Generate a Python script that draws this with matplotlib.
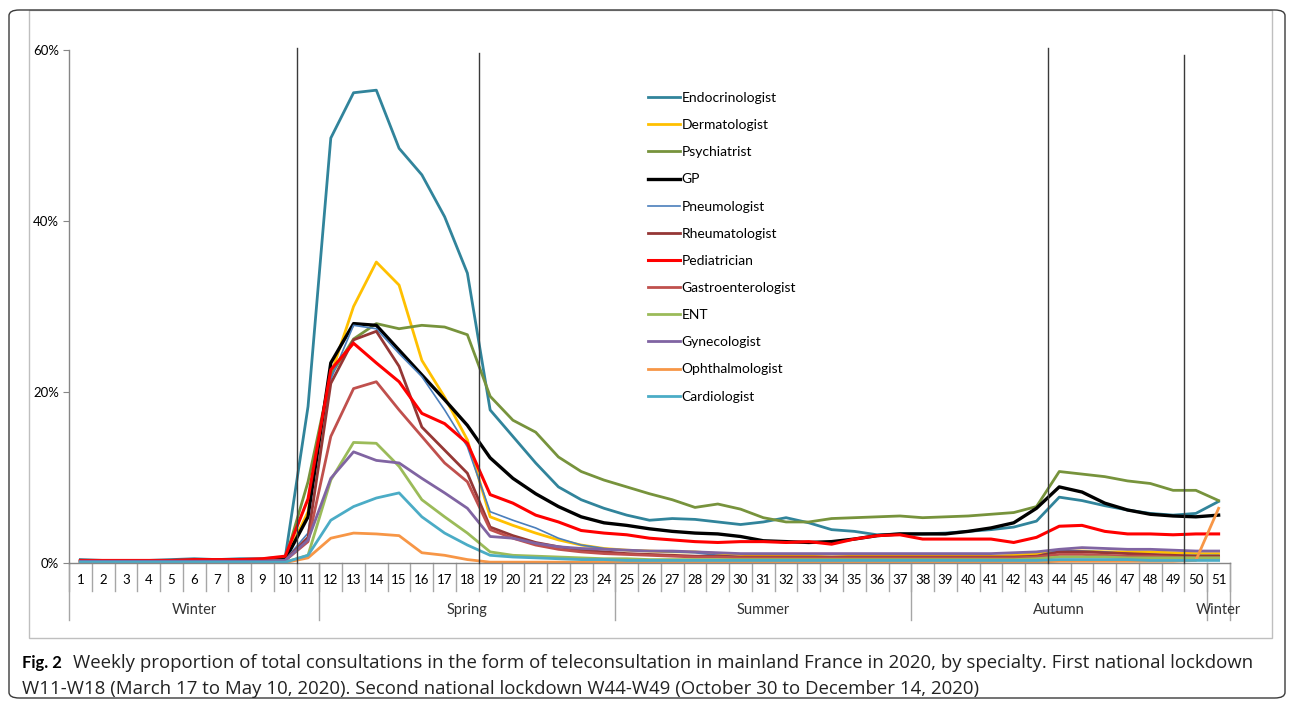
import numpy as np
import matplotlib.pyplot as plt
from matplotlib.patches import FancyBboxPatch, Rectangle

plt.rcParams['font.family'] = ['Lato', 'DejaVu Sans']

weeks = np.arange(1, 52)

endocrinologist = [0.4, 0.3, 0.3, 0.3, 0.4, 0.5, 0.4, 0.5, 0.5, 0.7,
                   18.3, 49.7, 55.0, 55.3, 48.5, 45.4, 40.5, 33.9, 17.9, 14.8,
                   11.7, 8.9, 7.4, 6.4, 5.6, 5.0, 5.2, 5.1, 4.8, 4.5,
                   4.8, 5.3, 4.7, 3.9, 3.7, 3.3, 3.4, 3.4, 3.5, 3.7,
                   3.9, 4.2, 4.9, 7.7, 7.3, 6.7, 6.2, 5.8, 5.6, 5.8, 7.2]
dermatologist = [0.2, 0.2, 0.2, 0.2, 0.2, 0.2, 0.2, 0.2, 0.3, 0.4,
                 6.0, 22.0, 30.0, 35.2, 32.5, 23.7, 19.4, 14.4, 5.4, 4.4,
                 3.5, 2.7, 2.1, 1.7, 1.5, 1.4, 1.3, 1.3, 1.1, 1.0,
                 0.9, 0.9, 0.8, 0.7, 0.8, 0.8, 0.8, 0.8, 0.8, 0.8,
                 0.8, 0.9, 1.1, 1.4, 1.4, 1.3, 1.3, 1.3, 1.2, 1.1, 1.1]
psychiatrist = [0.3, 0.3, 0.3, 0.3, 0.3, 0.3, 0.3, 0.3, 0.3, 0.4,
                9.5, 22.0, 26.2, 28.0, 27.4, 27.8, 27.6, 26.7, 19.5, 16.7,
                15.3, 12.4, 10.7, 9.7, 8.9, 8.1, 7.4, 6.5, 6.9, 6.3,
                5.3, 4.8, 4.8, 5.2, 5.3, 5.4, 5.5, 5.3, 5.4, 5.5,
                5.7, 5.9, 6.6, 10.7, 10.4, 10.1, 9.6, 9.3, 8.5, 8.5, 7.3]
gp = [0.2, 0.2, 0.2, 0.2, 0.2, 0.2, 0.3, 0.3, 0.3, 0.4,
      5.4, 23.4, 28.0, 27.8, 24.9, 22.0, 19.1, 16.1, 12.3, 9.9,
      8.1, 6.6, 5.4, 4.7, 4.4, 4.0, 3.7, 3.5, 3.4, 3.1,
      2.6, 2.5, 2.4, 2.5, 2.8, 3.2, 3.4, 3.4, 3.4, 3.7,
      4.1, 4.7, 6.4, 8.9, 8.3, 7.0, 6.2, 5.7, 5.5, 5.4, 5.6]
pneumologist = [0.2, 0.2, 0.2, 0.2, 0.2, 0.2, 0.2, 0.2, 0.3, 0.4,
                3.5, 21.5, 27.8, 27.4, 24.5, 21.8, 17.9, 13.6, 6.0, 5.0,
                4.1, 2.9, 2.1, 1.7, 1.5, 1.4, 1.3, 1.2, 0.9, 0.7,
                0.7, 0.6, 0.6, 0.5, 0.5, 0.5, 0.5, 0.5, 0.5, 0.5,
                0.5, 0.6, 0.8, 1.5, 1.4, 1.3, 1.1, 1.0, 0.9, 0.9, 0.9]
rheumatologist = [0.2, 0.2, 0.2, 0.2, 0.2, 0.2, 0.2, 0.2, 0.2, 0.3,
                  3.0, 21.0, 26.1, 27.1, 23.0, 15.9, 13.2, 10.5, 4.2, 3.2,
                  2.4, 1.9, 1.5, 1.3, 1.1, 1.0, 0.9, 0.8, 0.8, 0.7,
                  0.7, 0.7, 0.7, 0.7, 0.7, 0.7, 0.7, 0.7, 0.7, 0.7,
                  0.7, 0.7, 0.8, 1.3, 1.3, 1.2, 1.1, 1.0, 0.9, 0.8, 0.8]
pediatrician = [0.3, 0.3, 0.3, 0.3, 0.3, 0.4, 0.4, 0.4, 0.5, 0.8,
                7.5, 22.6, 25.7, 23.4, 21.2, 17.5, 16.3, 14.0, 8.0, 7.0,
                5.6, 4.8, 3.8, 3.5, 3.3, 2.9, 2.7, 2.5, 2.4, 2.5,
                2.5, 2.4, 2.5, 2.2, 2.8, 3.2, 3.3, 2.8, 2.8, 2.8,
                2.8, 2.4, 3.0, 4.3, 4.4, 3.7, 3.4, 3.4, 3.3, 3.4, 3.4]
gastroenterologist = [0.2, 0.2, 0.2, 0.2, 0.2, 0.2, 0.2, 0.2, 0.2, 0.3,
                      2.5, 14.8, 20.4, 21.2, 17.9, 14.8, 11.7, 9.5, 3.9, 2.9,
                      2.1, 1.6, 1.3, 1.1, 1.0, 0.9, 0.8, 0.7, 0.7, 0.6,
                      0.6, 0.6, 0.6, 0.6, 0.6, 0.6, 0.6, 0.6, 0.6, 0.6,
                      0.6, 0.6, 0.7, 1.0, 1.0, 0.9, 0.8, 0.8, 0.7, 0.6, 0.6]
ent = [0.1, 0.1, 0.1, 0.1, 0.1, 0.1, 0.1, 0.1, 0.1, 0.1,
       0.9, 9.7, 14.1, 14.0, 11.3, 7.4, 5.4, 3.5, 1.3, 0.9,
       0.8, 0.7, 0.6, 0.5, 0.5, 0.4, 0.4, 0.4, 0.4, 0.4,
       0.4, 0.4, 0.4, 0.4, 0.4, 0.4, 0.4, 0.4, 0.4, 0.4,
       0.4, 0.4, 0.5, 0.7, 0.7, 0.7, 0.6, 0.6, 0.6, 0.6, 0.6]
gynecologist = [0.2, 0.2, 0.2, 0.2, 0.2, 0.2, 0.2, 0.2, 0.2, 0.3,
                2.7, 9.9, 13.0, 12.0, 11.7, 9.9, 8.2, 6.4, 3.1, 2.9,
                2.3, 1.9, 1.7, 1.6, 1.5, 1.4, 1.4, 1.3, 1.2, 1.1,
                1.1, 1.1, 1.1, 1.1, 1.1, 1.1, 1.1, 1.1, 1.1, 1.1,
                1.1, 1.2, 1.3, 1.6, 1.8, 1.7, 1.6, 1.6, 1.5, 1.4, 1.4]
ophthalmologist = [0.05, 0.05, 0.05, 0.05, 0.05, 0.05, 0.05, 0.05, 0.05, 0.05,
                   0.6, 2.9, 3.5, 3.4, 3.2, 1.2, 0.9, 0.4, 0.1, 0.1,
                   0.1, 0.1, 0.1, 0.1, 0.1, 0.1, 0.1, 0.1, 0.1, 0.1,
                   0.1, 0.1, 0.1, 0.1, 0.1, 0.1, 0.1, 0.1, 0.1, 0.1,
                   0.1, 0.1, 0.1, 0.2, 0.2, 0.2, 0.2, 0.2, 0.2, 0.3, 6.4]
cardiologist = [0.1, 0.1, 0.1, 0.1, 0.1, 0.1, 0.1, 0.1, 0.1, 0.1,
                0.9, 5.0, 6.6, 7.6, 8.2, 5.4, 3.5, 2.1, 0.9, 0.7,
                0.6, 0.5, 0.4, 0.4, 0.3, 0.3, 0.3, 0.3, 0.3, 0.3,
                0.3, 0.3, 0.3, 0.3, 0.3, 0.3, 0.3, 0.3, 0.3, 0.3,
                0.3, 0.3, 0.3, 0.4, 0.4, 0.4, 0.4, 0.3, 0.3, 0.3, 0.3]

specialties = ["Endocrinologist", "Dermatologist", "Psychiatrist", "GP", "Pneumologist",
               "Rheumatologist", "Pediatrician", "Gastroenterologist", "ENT",
               "Gynecologist", "Ophthalmologist", "Cardiologist"]
series = [endocrinologist, dermatologist, psychiatrist, gp, pneumologist,
          rheumatologist, pediatrician, gastroenterologist, ent,
          gynecologist, ophthalmologist, cardiologist]
colors = ['#31849B', '#FFC000', '#77933C', '#000000', '#4A7EBB',
          '#953735', '#FF0000', '#C0504D', '#9BBB59',
          '#8064A2', '#F79646', '#4BACC6']
widths = [2.0, 2.0, 2.0, 2.4, 1.2, 2.0, 2.2, 2.0, 2.0, 2.0, 2.0, 2.0]

# lockdown boundaries (between weeks) and the top of each drawn line
lockdown_x = [10.5, 18.5, 43.5, 49.5]
lockdown_top = [60.2, 59.7, 60.2, 59.4]

seasons = ["Winter", "Spring", "Summer", "Autumn", "Winter"]
season_first = [1, 12, 25, 38, 51]
season_last = [11, 24, 37, 50, 51]

W, H = 1293, 708
fig = plt.figure(figsize=(W / 100, H / 100), dpi=100)

# outer rounded frame and inner chart box
fig.patches.append(Rectangle((29 / W, (H - 638) / H), 1243 / W, 628 / H,
                             transform=fig.transFigure, fill=False,
                             edgecolor='#bfbfbf', linewidth=1.0))
fig.patches.append(FancyBboxPatch((9 / W, 10 / H), 1276 / W, 688 / H,
                                  boxstyle="round,pad=0,rounding_size=0.008",
                                  transform=fig.transFigure, fill=False,
                                  edgecolor='#3a3a3a', linewidth=1.0))

x0, x1 = 69, 1230
y0, y1 = 563, 50
ax = fig.add_axes([x0 / W, (H - y0) / H, (x1 - x0) / W, (y0 - y1) / H])

for name, vals, c, lw in zip(specialties, series, colors, widths):
    ax.plot(weeks, vals, color=c, lw=lw, label=name, solid_joinstyle='round')

for xv, top in zip(lockdown_x, lockdown_top):
    ax.plot([xv, xv], [0, top], color='#3a3a3a', lw=1.0, clip_on=False, zorder=3)

ax.set_xlim(0.5, 51.5)
ax.set_ylim(0, 60)
ax.set_yticks([0, 20, 40, 60])
ax.set_yticklabels(["0%", "20%", "40%", "60%"])
ax.tick_params(axis='y', length=4, color='#868686', labelsize=9.5, pad=3)
ax.set_xticks(weeks)
ax.set_xticklabels([str(w) for w in weeks])
ax.tick_params(axis='x', length=0, labelsize=9.5, pad=8)
for s in ['top', 'right']:
    ax.spines[s].set_visible(False)
for s in ['left', 'bottom']:
    ax.spines[s].set_color('#868686')
    ax.spines[s].set_linewidth(1.0)

trans = ax.get_xaxis_transform()
for b in np.arange(0.5, 52, 1.0):
    ax.plot([b, b], [0, -0.054], color='#a6a6a6', lw=1.0, transform=trans, clip_on=False)
bounds = [f - 0.5 for f in season_first] + [season_last[-1] + 0.5]
for b in bounds:
    ax.plot([b, b], [0, -0.111], color='#a6a6a6', lw=1.0, transform=trans, clip_on=False)
for name, a, b in zip(seasons, season_first, season_last):
    ax.text((a + b) / 2, -0.092, name, transform=trans, ha='center', va='center',
            fontsize=10.5, color='#333333')

leg = ax.legend(loc='upper left', bbox_to_anchor=(0.4987, 0.918), frameon=False,
                fontsize=10, handlelength=2.3, handletextpad=0.1, labelspacing=1.09,
                borderpad=0, borderaxespad=0)

fig.text(22 / W, 1 - 663 / H, "Fig. 2", fontsize=12, fontweight='bold', va='center')
fig.text(73 / W, 1 - 663 / H,
         "Weekly proportion of total consultations in the form of teleconsultation in mainland France in 2020, by specialty. First national lockdown",
         fontsize=13.4, va='center', color='#222222', family=['Open Sans', 'DejaVu Sans'])
fig.text(22 / W, 1 - 689 / H,
         "W11-W18 (March 17 to May 10, 2020). Second national lockdown W44-W49 (October 30 to December 14, 2020)",
         fontsize=13.4, va='center', color='#222222', family=['Open Sans', 'DejaVu Sans'])

fig.savefig("out.png", dpi=100)
